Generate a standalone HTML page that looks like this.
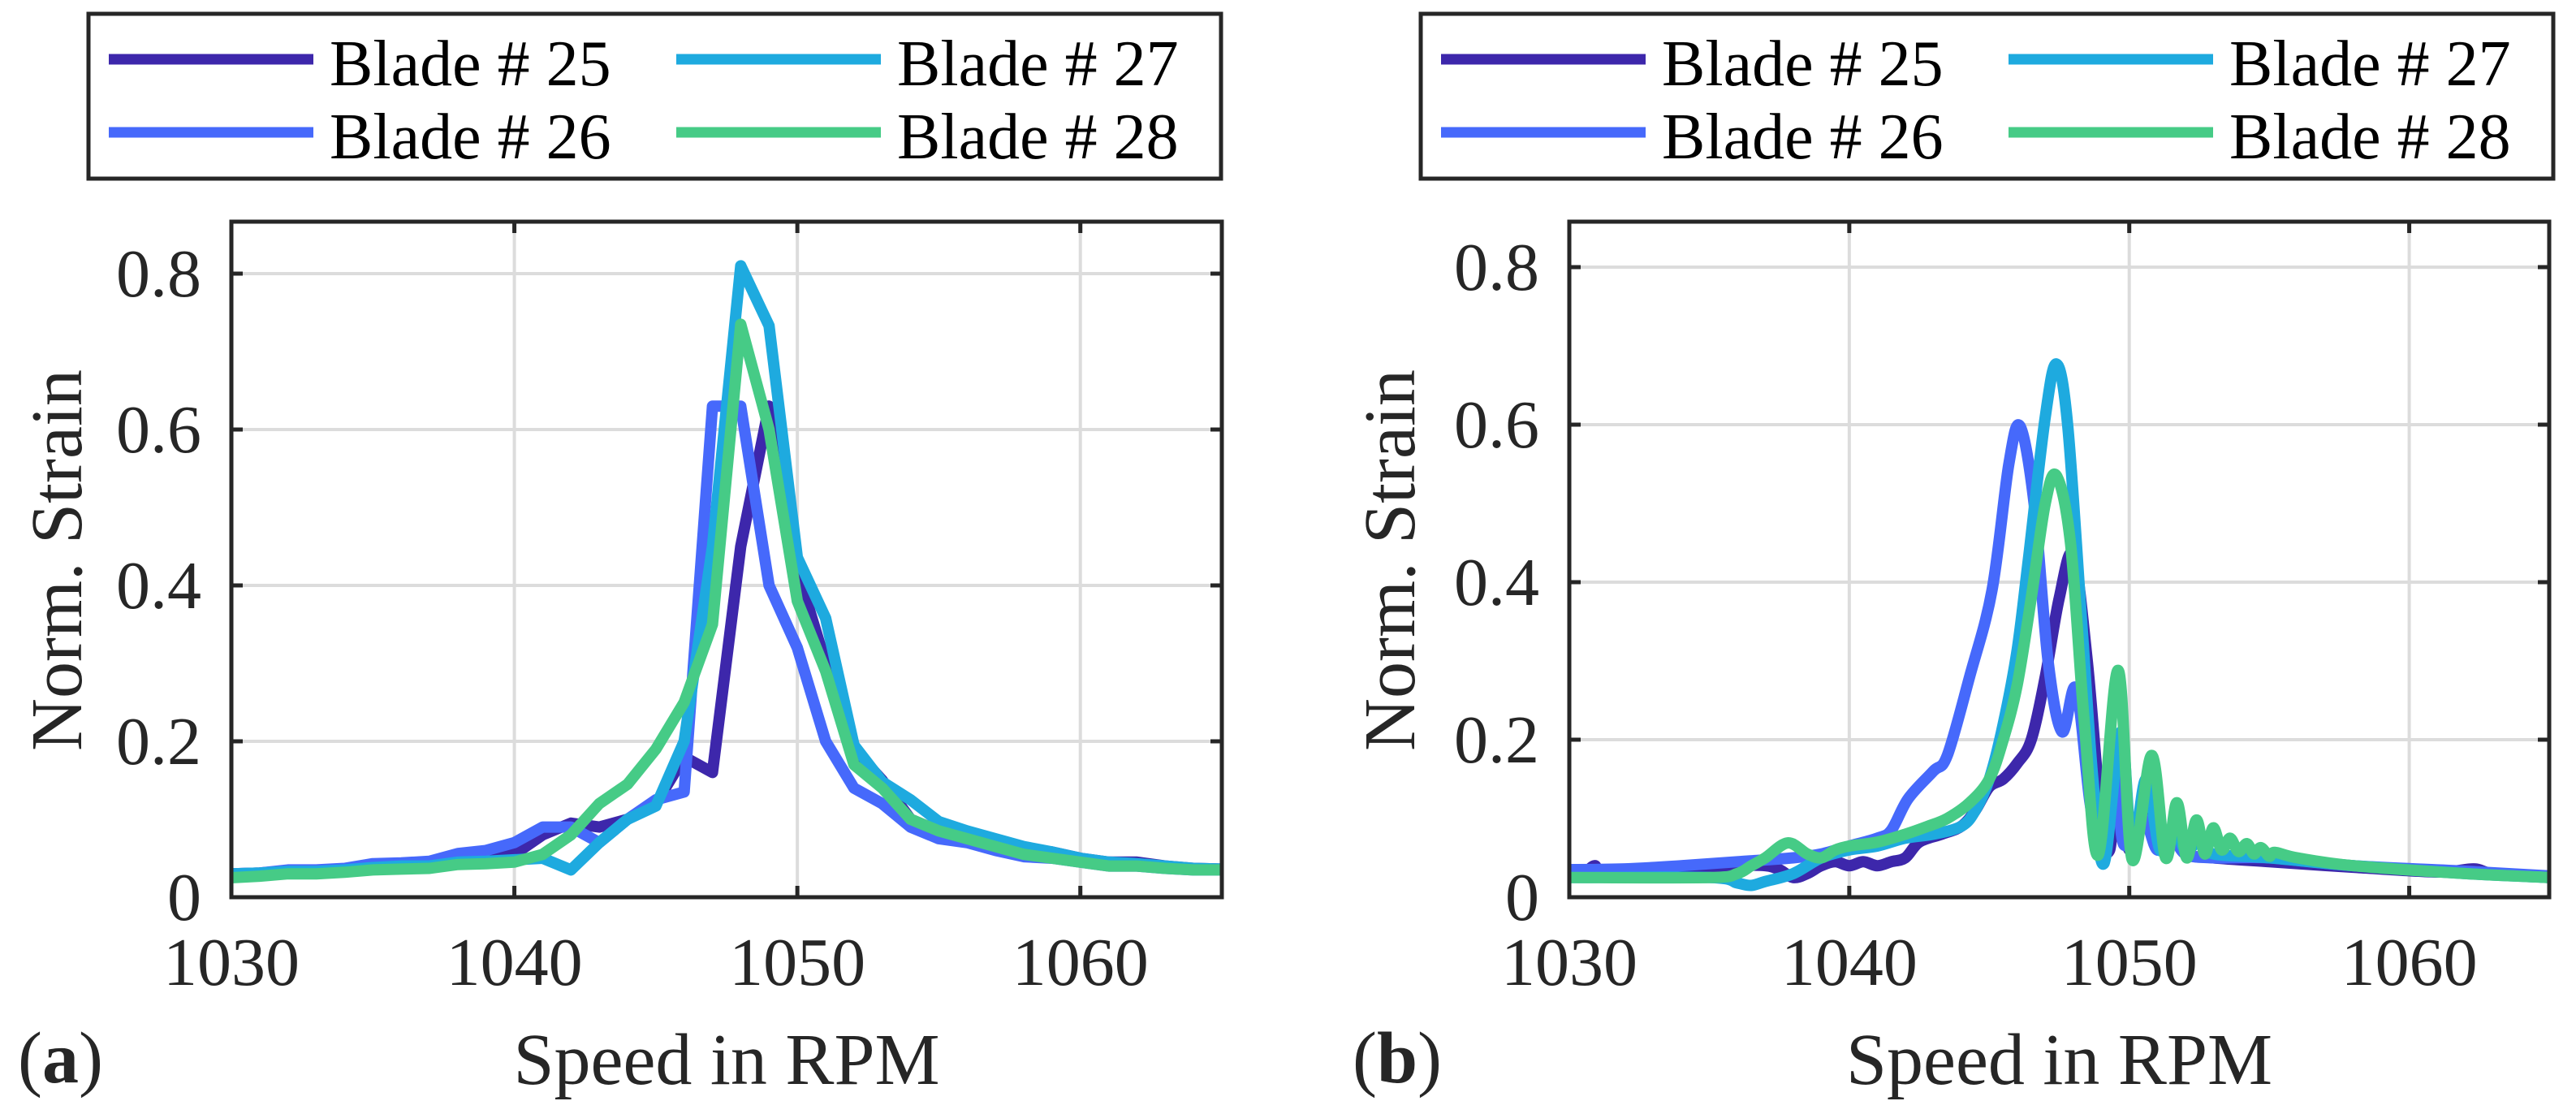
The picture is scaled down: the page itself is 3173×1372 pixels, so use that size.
<!DOCTYPE html>
<html><head><meta charset="utf-8"><style>
html,body{margin:0;padding:0;background:#fff}
svg{display:block}
svg text{font-family:"Liberation Serif","DejaVu Serif",serif;fill:#262626}
</style></head><body>
<svg id="chart" xmlns="http://www.w3.org/2000/svg" width="3173" height="1372" viewBox="0 0 3173 1372"></svg>
<script>
const seriesNames = ["Blade # 25","Blade # 26","Blade # 27","Blade # 28"];
const seriesColors = ["#3d27ab","#4669fb","#1eaadf","#46cb86"];
const xTicks = [1030,1040,1050,1060];
const yTicks = [0,0.2,0.4,0.6,0.8];
const yTickLabels = ["0","0.2","0.4","0.6","0.8"];
// Panel (a): 1 RPM steps
const aSpeed = [1030,1031,1032,1033,1034,1035,1036,1037,1038,1039,1040,1041,1042,1043,1044,1045,1046,1047,1048,1049,1050,1051,1052,1053,1054,1055,1056,1057,1058,1059,1060,1061,1062,1063,1064,1065];
const a25 = [.03,.031,.034,.034,.035,.04,.042,.044,.05,.052,.055,.08,.095,.09,.1,.12,.18,.16,.45,.63,.42,.3,.19,.15,.1,.085,.08,.07,.06,.058,.05,.045,.045,.04,.037,.036];
const a26 = [.03,.031,.035,.035,.037,.043,.044,.046,.056,.06,.07,.09,.09,.07,.1,.125,.135,.63,.63,.4,.32,.2,.14,.12,.09,.075,.07,.06,.052,.05,.045,.04,.04,.037,.035,.035];
const a27 = [.03,.031,.033,.033,.035,.038,.04,.04,.045,.046,.048,.05,.035,.07,.1,.117,.2,.45,.81,.733,.436,.358,.195,.148,.125,.097,.085,.075,.065,.058,.05,.045,.043,.04,.037,.036];
const a28 = [.025,.027,.03,.03,.032,.035,.036,.037,.042,.043,.045,.055,.08,.12,.145,.19,.25,.35,.735,.6,.38,.29,.17,.14,.1,.085,.075,.065,.055,.05,.045,.04,.04,.037,.035,.035];
// Panel (b): irregular samples, smooth
const b25Speed = [1030,1030.5,1030.9,1031.3,1034,1036,1037,1037.5,1038,1038.5,1039,1039.5,1040,1040.5,1041,1041.5,1042,1042.5,1043.3,1044,1044.5,1045,1045.5,1046,1046.5,1047,1047.5,1048,1048.5,1049,1049.3,1049.6,1050,1050.6,1051.1,1051.5,1052,1053,1055,1058,1061,1062.3,1063,1065];
const b25 = [.035,.03,.04,.033,.035,.04,.04,.035,.025,.03,.04,.045,.04,.045,.04,.045,.05,.07,.08,.09,.11,.14,.15,.17,.2,.28,.38,.435,.3,.1,.06,.15,.06,.12,.06,.08,.055,.05,.045,.038,.032,.036,.03,.025];
const b26Speed = [1030,1032,1034,1036,1038,1039,1040,1041,1041.5,1042.1,1043,1043.5,1044.3,1045.1,1045.7,1046.1,1046.6,1047.1,1047.6,1048.1,1048.6,1049,1049.5,1049.8,1050.5,1051,1051.5,1052,1053,1055,1058,1062,1065];
const b26 = [.035,.036,.04,.045,.05,.055,.065,.075,.085,.125,.16,.18,.28,.39,.55,.598,.5,.3,.21,.265,.12,.06,.16,.067,.1,.06,.08,.055,.05,.05,.04,.033,.027];
const b27Speed = [1030,1035,1036,1036.5,1037,1038,1039,1040,1041,1042,1043,1044,1044.5,1045,1045.5,1046,1046.4,1047,1047.4,1047.8,1048.3,1048.7,1049.1,1049.7,1050.1,1050.6,1051.1,1051.6,1052,1052.5,1053,1055,1058,1062,1065];
const b27 = [.025,.025,.018,.015,.02,.03,.05,.06,.065,.075,.08,.09,.11,.15,.22,.315,.43,.61,.677,.6,.35,.15,.043,.21,.06,.15,.06,.09,.06,.07,.055,.05,.04,.03,.025];
const b28Speed = [1030,1035,1036,1036.5,1037,1037.8,1038.5,1039,1039.5,1040,1041,1042,1042.8,1043.5,1044.3,1045,1045.5,1046,1046.5,1047,1047.4,1047.9,1048.4,1048.9,1049.6,1050.1,1050.8,1051.3,1051.7,1052.05,1052.4,1052.7,1053,1053.3,1053.6,1053.9,1054.2,1054.45,1054.7,1055,1055.2,1056,1058,1062,1065];
const b28 = [.025,.025,.03,.04,.05,.069,.055,.05,.06,.065,.07,.08,.09,.1,.12,.15,.2,.27,.38,.5,.535,.45,.22,.054,.288,.048,.18,.05,.12,.05,.098,.055,.088,.06,.075,.058,.068,.055,.063,.052,.057,.05,.04,.03,.025];

const svg = document.getElementById('chart');
const NS = 'http://www.w3.org/2000/svg';
const FF = '"Liberation Serif","DejaVu Serif",serif';
function mk(tag, attrs, parent){const e=document.createElementNS(NS,tag);for(const k in attrs)e.setAttribute(k,attrs[k]);(parent||svg).appendChild(e);return e;}

function smoothPath(xs, ys, sx, sy){
  const p = xs.map((x,i)=>[sx(x), sy(ys[i])]);
  let d = 'M'+p[0][0].toFixed(1)+' '+p[0][1].toFixed(1);
  for(let i=0;i<p.length-1;i++){
    const p0=p[Math.max(0,i-1)],p1=p[i],p2=p[i+1],p3=p[Math.min(p.length-1,i+2)];
    const c1=[p1[0]+(p2[0]-p0[0])/6,p1[1]+(p2[1]-p0[1])/6];
    const c2=[p2[0]-(p3[0]-p1[0])/6,p2[1]-(p3[1]-p1[1])/6];
    d+=' C'+c1[0].toFixed(1)+' '+c1[1].toFixed(1)+' '+c2[0].toFixed(1)+' '+c2[1].toFixed(1)+' '+p2[0].toFixed(1)+' '+p2[1].toFixed(1);
  }
  return d;
}
function linPath(xs, ys, sx, sy){
  return xs.map((x,i)=>(i?'L':'M')+sx(x).toFixed(1)+' '+sy(ys[i]).toFixed(1)).join(' ');
}

function panel(cfg){
  const g = mk('g',{});
  
  
  const sx = v => cfg.x0 + (v-1030)/(1065-1030)*(cfg.x1-cfg.x0);
  const sy = v => cfg.y0 - v*cfg.ppu;
  const top = cfg.top;
  const cp = mk('clipPath',{id:cfg.name+'-clip'},g);
  mk('rect',{x:cfg.x0,y:top,width:cfg.x1-cfg.x0,height:cfg.y0-top},cp);
  xTicks.slice(1).forEach(t=>{
    const l=mk('line',{x1:sx(t),x2:sx(t),y1:top,y2:cfg.y0,stroke:'#dcdcdc','stroke-width':4},g);
    
    
  });
  yTicks.slice(1).forEach(t=>{
    const l=mk('line',{x1:cfg.x0,x2:cfg.x1,y1:sy(t),y2:sy(t),stroke:'#dcdcdc','stroke-width':4},g);
    
    
  });
  const sg = mk('g',{'clip-path':'url(#'+cfg.name+'-clip)'},g);
  cfg.series.forEach((s,i)=>{
    const d = cfg.smooth ? smoothPath(s.x,s.y,sx,sy) : linPath(s.x,s.y,sx,sy);
    const p = mk('path',{d:d,fill:'none',stroke:seriesColors[i],'stroke-width':14,'stroke-linejoin':'round','stroke-linecap':'butt'},sg);
    
    
  });
  const box = mk('rect',{x:cfg.x0,y:top,width:cfg.x1-cfg.x0,height:cfg.y0-top,fill:'none',stroke:'#262626','stroke-width':5},g);
  
  
  xTicks.forEach(t=>{
    mk('line',{x1:sx(t),x2:sx(t),y1:cfg.y0,y2:cfg.y0-14,stroke:'#262626','stroke-width':5},g);
    mk('line',{x1:sx(t),x2:sx(t),y1:top,y2:top+14,stroke:'#262626','stroke-width':5},g);
    const tx=mk('text',{x:sx(t),y:1213,'font-size':84,'text-anchor':'middle','font-family':FF},g);
    tx.textContent=t;
    
    
  });
  yTicks.forEach((t,i)=>{
    mk('line',{x1:cfg.x0,x2:cfg.x0+14,y1:sy(t),y2:sy(t),stroke:'#262626','stroke-width':5},g);
    mk('line',{x1:cfg.x1,x2:cfg.x1-14,y1:sy(t),y2:sy(t),stroke:'#262626','stroke-width':5},g);
    const ty=mk('text',{x:cfg.x0-37,y:sy(t)+28,'font-size':84,'text-anchor':'end','font-family':FF},g);
    ty.textContent=yTickLabels[i];
    
    
  });
  const yl=mk('text',{x:0,y:0,'font-size':90,'text-anchor':'middle','font-family':FF,transform:'translate('+(cfg.ylabX)+',690) rotate(-90)'},g);
  yl.textContent='Norm. Strain';
  
  
  const xl=mk('text',{x:(cfg.x0+cfg.x1)/2,y:1335,'font-size':90,'text-anchor':'middle','font-family':FF},g);
  xl.textContent='Speed in RPM';
  
  
  const pl=mk('text',{x:cfg.lblX,y:1333,'font-size':90,'font-family':FF},g);
  pl.innerHTML='(<tspan font-weight="bold">'+cfg.letter+'</tspan>)';
  
  
  const lg=mk('g',{},g);
  
  
  mk('rect',{x:cfg.lgX,y:17,width:1395,height:203,fill:'#fff',stroke:'#262626','stroke-width':5},lg);
  seriesNames.forEach((n,i)=>{
    const col=Math.floor(i/2), row=i%2;
    const lx=cfg.lgX+25+col*699, ly=73+row*90;
    const e=mk('g',{},lg);
    
    
    mk('line',{x1:lx,x2:lx+252,y1:ly,y2:ly,stroke:seriesColors[i],'stroke-width':13},e);
    const t=mk('text',{x:lx+272,y:ly+32,'font-size':80,'font-family':FF,style:'fill:#000'},e);
    t.textContent=n;
  });
}

panel({name:'panel-a',letter:'a',x0:285,x1:1505,y0:1105,ppu:960,top:273,ylabX:100,lblX:22,lgX:109,smooth:false,
  series:[{x:aSpeed,y:a25},{x:aSpeed,y:a26},{x:aSpeed,y:a27},{x:aSpeed,y:a28}]});
panel({name:'panel-b',letter:'b',x0:1933,x1:3140,y0:1105,ppu:970,top:273,ylabX:1742,lblX:1666,lgX:1750,smooth:true,
  series:[{x:b25Speed,y:b25},{x:b26Speed,y:b26},{x:b27Speed,y:b27},{x:b28Speed,y:b28}]});
</script>
</body></html>
